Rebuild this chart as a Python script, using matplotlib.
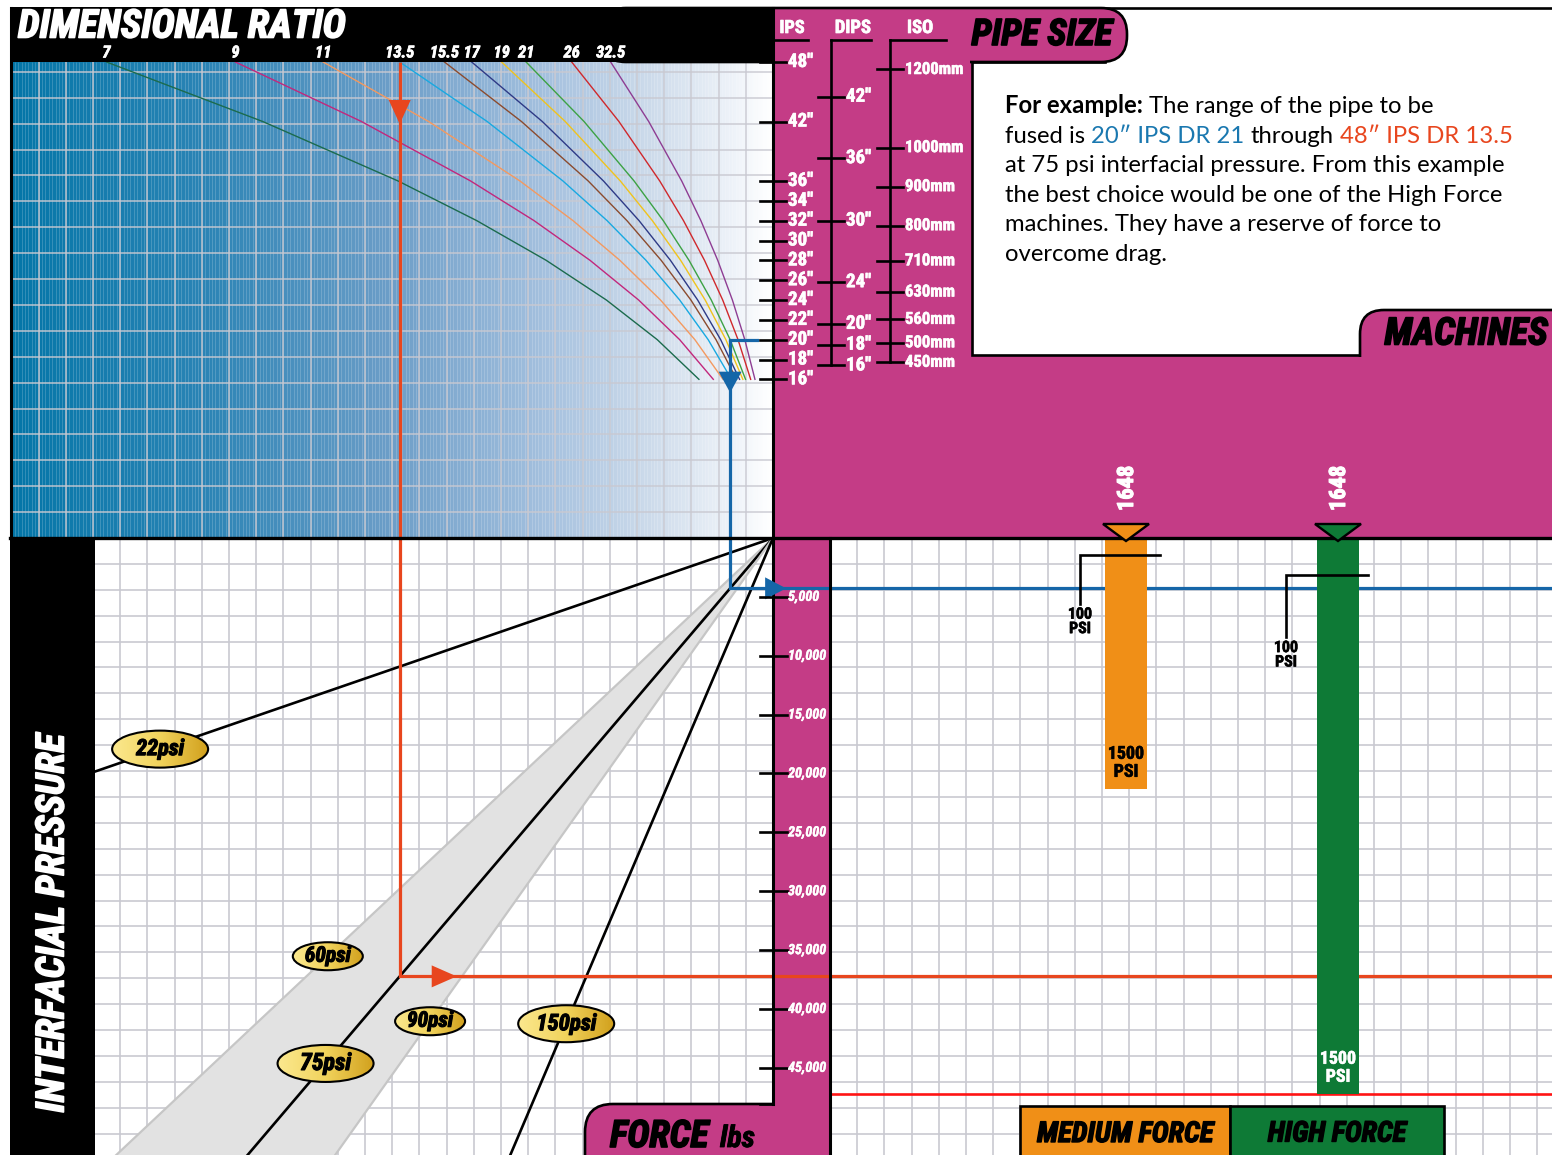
import numpy as np
import matplotlib
matplotlib.use("Agg")
import matplotlib.pyplot as plt
import matplotlib.font_manager as fm
from matplotlib import patheffects as pe
from matplotlib.colors import LinearSegmentedColormap
from matplotlib.patches import Rectangle, Polygon, Ellipse, FancyBboxPatch

# ---------------- data ----------------
dr_values = [7, 9, 11, 13.5, 15.5, 17, 19, 21, 26, 32.5]
dr_labels = ["7", "9", "11", "13.5", "15.5", "17", "19", "21", "26", "32.5"]
dr_colors = ["#1b6b4d", "#c2277c", "#f4995f", "#18a9e1", "#8b4b2e",
             "#2e3a86", "#f0c31c", "#3ca244", "#d0282c", "#8e3d93"]

# IPS sizes (in) at which each DR curve is read
curve_sizes = [16, 20, 24, 28, 32, 36, 42, 48]
# pipe wall area (sq in) along each DR curve
area_dr7 = [98.5, 153.9, 221.6, 301.6, 393.9, 498.5, 678.6, 886.3]
area_dr9 = [79.4, 124.1, 178.7, 243.3, 317.7, 402.1, 547.3, 714.9]
area_dr11 = [66.5, 103.9, 149.6, 203.6, 265.9, 336.5, 458.0, 598.2]
area_dr13_5 = [55.2, 86.2, 124.1, 168.9, 220.6, 279.3, 380.1, 496.4]
area_dr15_5 = [48.5, 75.8, 109.2, 148.7, 194.2, 245.7, 334.5, 436.9]
area_dr17 = [44.5, 69.6, 100.2, 136.4, 178.1, 225.4, 306.8, 400.7]
area_dr19 = [40.1, 62.7, 90.2, 122.8, 160.4, 203.0, 276.3, 360.9]
area_dr21 = [36.5, 57.0, 82.1, 111.7, 145.9, 184.7, 251.3, 328.3]
area_dr26 = [29.7, 46.5, 66.9, 91.1, 119.0, 150.6, 204.9, 267.7]
area_dr32_5 = [24.0, 37.5, 54.0, 73.5, 95.9, 121.4, 165.3, 215.9]
dr_areas = [area_dr7, area_dr9, area_dr11, area_dr13_5, area_dr15_5,
            area_dr17, area_dr19, area_dr21, area_dr26, area_dr32_5]

ips_sizes = [16, 18, 20, 22, 24, 26, 28, 30, 32, 34, 36, 42, 48]
dips_sizes = [16, 18, 20, 24, 30, 36, 42]
dips_od = [17.40, 19.50, 21.60, 25.80, 32.00, 38.30, 44.50]
iso_mm = [450, 500, 560, 630, 710, 800, 900, 1000, 1200]

psi_values = [22, 60, 75, 90, 150]
force_ticks = [5000, 10000, 15000, 20000, 25000, 30000, 35000, 40000, 45000]

machine_names = ["1648", "1648"]
machine_classes = ["MEDIUM FORCE", "HIGH FORCE"]
machine_colors = ["#f08f17", "#0e7a36"]
force_at_100psi = [1420, 3150]
force_at_1500psi = [21300, 47200]

example_psi = 75
example_small = (20, 21)     # 20" IPS DR 21
example_large = (48, 13.5)   # 48" IPS DR 13.5

# ---------------- fonts ----------------
# pick a narrow bold face for the poster-style headings if one is installed
_entries = fm.fontManager.ttflist
_names = {f.name for f in _entries}
HEAD_STRETCH = "normal"
HEAD_NAME = "DejaVu Sans"
for cand in ["Roboto Condensed", "Liberation Sans Narrow", "Open Sans Condensed",
             "DejaVu Sans Condensed", "Noto Sans Condensed"]:
    if cand in _names:
        HEAD_NAME, HEAD_STRETCH = cand, "condensed"
        break
else:
    for f in _entries:
        if str(f.stretch) in ("condensed", "semi-condensed", "extra-condensed") or \
                "Condensed" in f.name or "Narrow" in f.name:
            HEAD_NAME, HEAD_STRETCH = f.name, "condensed"
            break
HEAD = [HEAD_NAME, "DejaVu Sans"]
BODY = ["Lato", "DejaVu Sans"]

# ---------------- style ----------------
PINK = "#c43c86"
GRID = "#c9c9d1"
RED = "#e8461e"
BLUE = "#1566a8"

W, H = 1552, 1155
fig = plt.figure(figsize=(W / 100, H / 100), dpi=100, facecolor="white")
renderer = fig.canvas.get_renderer()


def px_axes(x0, y0, x1, y1, z):
    ax = fig.add_axes([x0 / W, 1 - y1 / H, (x1 - x0) / W, (y1 - y0) / H], zorder=z)
    ax.set_axis_off()
    return ax


ax_bg = px_axes(0, 0, W, H, 0)
ax_fg = px_axes(0, 0, W, H, 10)
for a in (ax_bg, ax_fg):
    a.set_xlim(0, W)
    a.set_ylim(H, 0)
    a.set_autoscale_on(False)

X0, XM, XF, XB = 12, 773, 830, 95
Y0, YM = 62, 538
SQIN_PX = 0.752
FORCE_MAX = 52400

ax_top = px_axes(X0, Y0, XM, YM, 2)
ax_top.set_xlim((XM - X0) / SQIN_PX, 0)
ax_top.set_ylim(0, 48)
ax_bl = px_axes(XB, YM, XM, H, 2)
ax_bl.set_xlim((XM - XB) / SQIN_PX, 0)
ax_bl.set_ylim(FORCE_MAX, 0)
ax_br = px_axes(XM, YM, W, H, 3)
ax_br.set_xlim(-(1126 - XM) / 212, 1 + (W - 1338) / 212)
ax_br.set_ylim(FORCE_MAX, 0)


def to_px(ax, x, y):
    return ax_fg.transData.inverted().transform(ax.transData.transform((x, y)))


def from_px(ax, x, y):
    return ax.transData.inverted().transform(ax_fg.transData.transform((x, y)))


def fit(t, width=None, length=None):
    bb = t.get_window_extent(renderer)
    if width:
        t.set_fontsize(t.get_fontsize() * width / bb.width)
    else:
        t.set_fontsize(t.get_fontsize() * length / bb.height)
    return t


def head(x, y, s, color="black", size=12, width=None, length=None,
         italic=True, stroke=0.8, **kw):
    t = ax_fg.text(x, y, s, color=color, fontsize=size, family=HEAD,
                   fontstretch=HEAD_STRETCH, weight="bold",
                   style="italic" if italic else "normal", zorder=8, **kw)
    if stroke:
        t.set_path_effects([pe.withStroke(linewidth=stroke, foreground=color)])
    if width or length:
        fit(t, width, length)
    return t


def fitted_size(sample, width, italic=True):
    t = head(0, 0, sample, width=width, italic=italic, stroke=0)
    s = t.get_fontsize()
    t.remove()
    return s


# ---------------- background ----------------
grad = LinearSegmentedColormap.from_list("dr", [
    (0.0, "#0476a8"), (0.25, "#2b84b5"), (0.5, "#6d9ec8"), (0.7, "#a4c0de"),
    (0.84, "#cddbeb"), (0.96, "#f1f5fa"), (1.0, "#ffffff")])
ax_bg.imshow(np.linspace(0, 1, 600)[None, :], cmap=grad, extent=(X0, XM, YM, Y0),
             aspect="auto", zorder=0)
ax_bg.vlines(np.arange(XM - 3.4, X0, -3.4), Y0, YM, color="white", lw=0.5, alpha=0.25, zorder=1)
ax_bg.vlines(np.arange(XM - 27.2, X0, -27.2), Y0, YM, color=GRID, lw=1.2, alpha=0.85, zorder=2)
ax_bg.hlines(np.arange(YM - 25.9, Y0, -25.9), X0, XM, color=GRID, lw=1.2, alpha=0.85, zorder=2)

ax_bg.hlines(np.arange(YM + 25.9, H, 25.9), XB, W, color=GRID, lw=1.2, zorder=2)
ax_bg.vlines(np.arange(XM - 27.2, XB, -27.2), YM, H, color=GRID, lw=1.2, zorder=2)
ax_bg.vlines(np.arange(XF + 27.2, W, 27.2), YM, H, color=GRID, lw=1.2, zorder=2)

ax_bg.add_patch(Rectangle((XM, 8), W - XM, YM - 8, fc=PINK, ec="none", zorder=3))
ax_bg.add_patch(Rectangle((XM, YM), XF - XM, H - YM, fc=PINK, ec="none", zorder=3))
ax_bg.add_patch(Polygon([(972, 355), (972, 62), (1105, 62), (1105, 8), (W + 5, 8), (W + 5, 355)],
                        closed=True, fc="white", ec="black", lw=1.9, zorder=4))
ax_bg.add_patch(FancyBboxPatch((600, 8), 1127 - 600, 54, boxstyle="round,pad=0,rounding_size=26",
                               fc=PINK, ec="black", lw=1.9, zorder=5))
ax_bg.add_patch(Rectangle((775, 45), 195, 40, fc=PINK, ec="none", zorder=6))
ax_bg.add_patch(FancyBboxPatch((1360, 310), 260, 100, boxstyle="round,pad=0,rounding_size=24",
                               fc=PINK, ec="black", lw=1.9, zorder=5))
ax_bg.add_patch(Rectangle((1355, 357), 205, 60, fc=PINK, ec="none", zorder=6))
ax_bg.add_patch(Rectangle((10, 6.5), XM - 10, Y0 - 6.5, fc="black", ec="none", zorder=7))
ax_bg.add_patch(Rectangle((10, YM), XB - 10, H - YM, fc="black", ec="none", zorder=7))

# ---------------- DR curves ----------------
for areas, col in zip(dr_areas, dr_colors):
    ax_top.plot(areas, curve_sizes, color=col, lw=1.0, zorder=2)

# ---------------- interfacial pressure lines ----------------
far = 3000
lo, hi = psi_values[1], psi_values[3]
ax_bl.add_patch(Polygon([(0, 0), (far, lo * far), (far, hi * far)], closed=True,
                        fc="#e2e2e2", ec="none", zorder=1))
for p in psi_values:
    band = p in (lo, hi)
    ax_bl.plot([0, far], [0, p * far], color="#c6c6c6" if band else "black",
               lw=1.6 if band else 1.9, zorder=2)

# ---------------- worked examples ----------------
a_small = dr_areas[dr_values.index(example_small[1])][curve_sizes.index(example_small[0])]
a_large = dr_areas[dr_values.index(example_large[1])][curve_sizes.index(example_large[0])]
f_small = example_psi * a_small
f_large = example_psi * a_large

for a, f, size, col in [(a_large, f_large, 48, RED), (a_small, f_small, example_small[0], BLUE)]:
    ax_top.plot([a, a], [size, 0], color=col, lw=2.3, zorder=3, solid_capstyle="butt")
    ax_bl.plot([a, a, 0], [0, f, f], color=col, lw=2.3, zorder=3, solid_joinstyle="miter")
    ax_br.axhline(f, color=col, lw=2.3, zorder=1)
xstub = from_px(ax_top, 757, 0)[0]
ax_top.plot([a_small, xstub], [example_small[0], example_small[0]], color=BLUE, lw=2.3, zorder=3)

xr, yr0 = to_px(ax_top, a_large, 48)
_, yr = to_px(ax_bl, a_large, f_large)
xb, yb0 = to_px(ax_top, a_small, example_small[0])
_, yb = to_px(ax_bl, a_small, f_small)
heads = [
    ([(xr - 11, yr0 + 38), (xr + 11, yr0 + 38), (xr, yr0 + 62)], RED),
    ([(xr + 32, yr - 11), (xr + 32, yr + 11), (xr + 57, yr)], RED),
    ([(xb - 11.5, yb0 + 32), (xb + 11.5, yb0 + 32), (xb, yb0 + 53)], BLUE),
    ([(xb + 35, yb - 11), (xb + 35, yb + 11), (xb + 56, yb)], BLUE),
]
for pts, col in heads:
    ax_fg.add_patch(Polygon(pts, closed=True, fc=col, ec="none", zorder=6))

# ---------------- machines ----------------
xpos = np.arange(len(machine_names))
ax_br.bar(xpos, force_at_1500psi, width=0.198, color=machine_colors, zorder=3)
x830 = from_px(ax_br, XF, 0)[0]
ax_br.hlines(max(force_at_1500psi), x830, ax_br.get_xlim()[1], color="#ff1414", lw=1.9, zorder=2)

bracket_left = [46, 52]
bracket_right = [34, 30]
bracket_drop = [49, 62]
for i, name in enumerate(machine_names):
    cx, y0 = to_px(ax_br, i, 0)
    ax_fg.add_patch(Polygon([(cx - 23, y0 - 14), (cx + 23, y0 - 14), (cx, y0 + 3)], closed=True,
                            fc=machine_colors[i], ec="black", lw=1.7, zorder=6))
    head(cx + 1, y0 - 27, name, color="white", length=45, italic=False, stroke=0.8,
         rotation=90, ha="center", va="bottom")
    _, y100 = to_px(ax_br, i, force_at_100psi[i])
    xl = cx - bracket_left[i]
    ax_fg.plot([xl, xl, cx + bracket_right[i]], [y100 + bracket_drop[i], y100, y100],
               color="black", lw=1.9, zorder=6, solid_joinstyle="miter")
    head(xl, y100 + bracket_drop[i] + 3, "100\nPSI", width=24, italic=False, stroke=0.4,
         ha="center", va="top", linespacing=0.95)
    _, yend = to_px(ax_br, i, force_at_1500psi[i])
    head(cx, yend - 8, "1500\nPSI", color="black" if i == 0 else "white", width=36,
         italic=False, stroke=0.4, ha="center", va="bottom", linespacing=1.0)

# legend strip
legend_x = [1020, 1230, 1444]
for i, (cls, col) in enumerate(zip(machine_classes, machine_colors)):
    ax_fg.add_patch(Rectangle((legend_x[i], 1106), legend_x[i + 1] - legend_x[i], 60,
                              fc=col, ec="black", lw=1.9, zorder=4))
    head((legend_x[i] + legend_x[i + 1]) / 2, 1134, cls, width=[176, 138][i],
         stroke=1.0, ha="center", va="center")

# ---------------- pressure labels ----------------
gold = LinearSegmentedColormap.from_list("gold", ["#fbe88e", "#f1d35c", "#d2a11e"])
label_area = {22: 815, 60: 592, 75: 595, 90: 456, 150: 275}
label_width = {22: 48, 60: 46, 75: 51, 90: 46, 150: 60}
for p in psi_values:
    a = label_area[p]
    cx, cy = to_px(ax_bl, a, p * a)
    small = p in (lo, hi)
    w, h = (70, 28) if small else (96, 37)
    ell = Ellipse((cx, cy), w, h, fc="none", ec="black", lw=1.5, zorder=6)
    ax_fg.add_patch(ell)
    im = ax_fg.imshow(np.linspace(0, 1, 64)[None, :], cmap=gold,
                      extent=(cx - w / 2, cx + w / 2, cy + h / 2, cy - h / 2),
                      aspect="auto", zorder=5)
    im.set_clip_path(ell)
    head(cx, cy, f"{p}psi", width=label_width[p], stroke=0.8, ha="center", va="center")

# ---------------- pipe size scales ----------------
def ytop(v):
    return to_px(ax_top, 0, v)[1]


inch_size = fitted_size("48\u2033", 25, italic=False)
mm_size = fitted_size("1000mm", 58, italic=False)
for s in ips_sizes:
    y = ytop(s)
    ax_fg.plot([760, 786], [y, y], color="black", lw=1.9, zorder=6)
    head(788, y, f"{s}\u2033", color="white", size=inch_size, italic=False, stroke=0.4, va="center")
ax_fg.plot([831, 831], [40, ytop(dips_od[0])], color="black", lw=1.9, zorder=6)
for s, od in zip(dips_sizes, dips_od):
    y = ytop(od)
    ax_fg.plot([818, 844], [y, y], color="black", lw=1.9, zorder=6)
    head(846, y, f"{s}\u2033", color="white", size=inch_size, italic=False, stroke=0.4, va="center")
ax_fg.plot([890, 890], [40, ytop(iso_mm[0] / 25.4)], color="black", lw=1.9, zorder=6)
for mm in iso_mm:
    y = ytop(mm / 25.4)
    ax_fg.plot([877, 903], [y, y], color="black", lw=1.9, zorder=6)
    head(905, y, f"{mm}mm", color="white", size=mm_size, italic=False, stroke=0.4, va="center")
for label, x0, x1, xc, wd in [("IPS", 775, 808, 792, 25), ("DIPS", 831, 871, 853, 36),
                              ("ISO", 890, 946, 920, 26)]:
    ax_fg.plot([x0, x1], [40, 40], color="black", lw=1.9, zorder=6)
    head(xc, 28, label, color="white", width=wd, italic=False, stroke=0.5, ha="center", va="center")

# DR labels in the header
dr_size = fitted_size("32.5", 29)
for lbl, areas in zip(dr_labels, dr_areas):
    x, _ = to_px(ax_top, areas[-1], 48)
    head(x, 53, lbl, color="white", size=dr_size, stroke=0.5, ha="center", va="center")

# force scale
force_size = fitted_size("10,000", 38)
for f in force_ticks:
    _, y = to_px(ax_br, 0, f)
    ax_fg.plot([760, 787], [y, y], color="black", lw=1.9, zorder=6)
    head(788, y, f"{f:,}", color="white", size=force_size, stroke=0.3, va="center")

# ---------------- frame lines and tabs ----------------
ax_fg.add_patch(FancyBboxPatch((585, 1104), XF - 585, 100, boxstyle="round,pad=0,rounding_size=28",
                               fc=PINK, ec="black", lw=1.9, zorder=2))
ax_fg.add_patch(Rectangle((XM + 1, 1098), XF - XM - 2, 70, fc=PINK, ec="none", zorder=3))
ax_fg.plot([XM, XM], [8, 1104], color="black", lw=2.2, zorder=4)
ax_fg.plot([XM, 760], [1104, 1104], color="black", lw=1.9, zorder=4)
ax_fg.plot([XF, XF], [YM, H], color="black", lw=2.2, zorder=4)
ax_fg.plot([10, W], [YM, YM], color="black", lw=2.4, zorder=4)
ax_fg.plot([11, 11], [8, YM], color="black", lw=2.2, zorder=4)

# ---------------- headings ----------------
head(18, 27, "DIMENSIONAL RATIO", color="white", width=327, stroke=1.2, va="center")
head(1042, 35, "PIPE SIZE", width=140, stroke=1.2, ha="center", va="center")
head(1466, 334, "MACHINES", width=163, stroke=1.2, ha="center", va="center")
head(53, 923, "INTERFACIAL PRESSURE", color="white", length=377, stroke=1.2,
     rotation=90, ha="center", va="center")
head(610, 1147, "FORCE", width=98, stroke=1.2, va="baseline")
head(720, 1147, "lbs", width=35, stroke=0.6, va="baseline")

# ---------------- example text ----------------
body_lines = [
    [("For example:", "black", "bold"), ("The range of the pipe to be", "black", "normal")],
    [("fused is", "black", "normal"), ("20\u2033 IPS DR 21", "#1a78b0", "normal"),
     ("through", "black", "normal"), ("48\u2033 IPS DR 13.5", RED, "normal")],
    [("at 75 psi interfacial pressure. From this example", "black", "normal")],
    [("the best choice would be one of the High Force", "black", "normal")],
    [("machines. They have a reserve of force to", "black", "normal")],
    [("overcome drag.", "black", "normal")],
]
probe = ax_fg.text(0, 0, body_lines[2][0][0], fontsize=16, family=BODY)
body_size = 16 * 503 / probe.get_window_extent(renderer).width
probe.set_fontsize(body_size)
probe.set_text("n n")
w1 = probe.get_window_extent(renderer).width
probe.set_text("nn")
space = w1 - probe.get_window_extent(renderer).width
probe.remove()

for k, line in enumerate(body_lines):
    x = 1005
    y = 113 + 29.6 * k
    for txt, col, wt in line:
        t = ax_fg.text(x, y, txt, color=col, fontsize=body_size, family=BODY,
                       weight=wt, va="baseline", zorder=8)
        x += t.get_window_extent(renderer).width + space

fig.savefig("out.png", dpi=100, facecolor="white")
